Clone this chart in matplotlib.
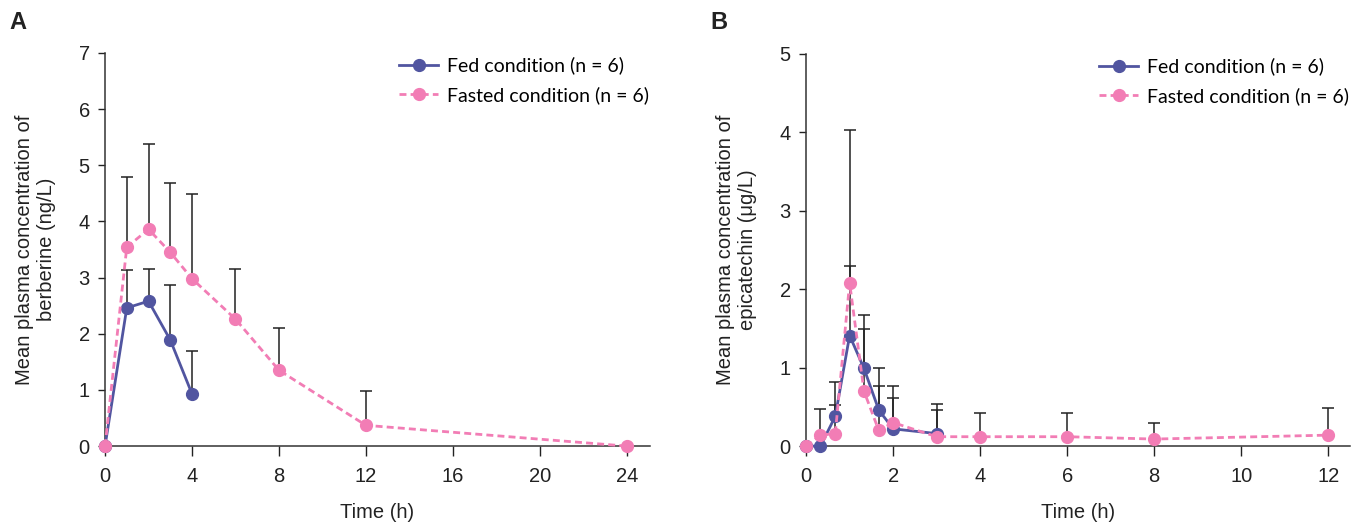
import numpy as np
import matplotlib
matplotlib.use('Agg')
import matplotlib.pyplot as plt

plt.rcParams['font.family'] = ['Liberation Sans', 'DejaVu Sans']

# Panel A: berberine (ng/L)
a_fed_t = [0, 1, 2, 3, 4]
a_fed_y = [0, 2.46, 2.58, 1.89, 0.93]
a_fed_up = [0, 3.14, 3.15, 2.86, 1.69]
a_fast_t = [0, 1, 2, 3, 4, 6, 8, 12, 24]
a_fast_y = [0, 3.54, 3.86, 3.45, 2.98, 2.26, 1.35, 0.37, 0]
a_fast_up = [0, 4.79, 5.37, 4.69, 4.49, 3.15, 2.10, 0.98, 0]

# Panel B: epicatechin (ug/L)
b_fed_t = [0, 0.33, 0.67, 1, 1.33, 1.67, 2, 3]
b_fed_y = [0, 0, 0.38, 1.41, 0.99, 0.46, 0.22, 0.16]
b_fed_up = [0, 0, 0.82, 2.30, 1.67, 0.99, 0.61, 0.54]
b_fast_t = [0, 0.33, 0.67, 1, 1.33, 1.67, 2, 3, 4, 6, 8, 12]
b_fast_y = [0, 0.14, 0.16, 2.08, 0.70, 0.20, 0.30, 0.12, 0.12, 0.12, 0.09, 0.14]
b_fast_up = [0, 0.47, 0.53, 4.03, 1.49, 0.76, 0.77, 0.46, 0.42, 0.42, 0.30, 0.49]

FED = '#5155a0'
FAST = '#f27db5'

fig = plt.figure(figsize=(13.64, 5.23), dpi=100)
axA = fig.add_axes([0.077, 0.147, 0.3995, 0.752])
axB = fig.add_axes([0.591, 0.147, 0.3987, 0.750])


def draw(ax, t1, y1, u1, t2, y2, u2):
    for t, y, u in [(t1, y1, u1), (t2, y2, u2)]:
        y = np.array(y)
        err = np.array(u) - y
        ax.errorbar(t, y, yerr=[np.zeros_like(err), err], fmt='none',
                    ecolor='#222222', elinewidth=1.1, capsize=4, capthick=1.1,
                    zorder=2, clip_on=False)
    ax.plot(t1, y1, '-', color=FED, lw=2, marker='o', ms=8.5,
            label='Fed condition (n = 6)', zorder=3, clip_on=False)
    ax.plot(t2, y2, color=FAST, lw=2, ls=(0, (2.5, 1.5)), marker='o', ms=8.5,
            label='Fasted condition (n = 6)', zorder=4, clip_on=False)
    for s in ['top', 'right']:
        ax.spines[s].set_visible(False)
    for s in ['left', 'bottom']:
        ax.spines[s].set_linewidth(1.1)
        ax.spines[s].set_color('#333333')
    ax.tick_params(direction='out', width=1, labelsize=14.5, colors='#222222')
    ax.tick_params(axis='x', length=7, pad=8)
    ax.tick_params(axis='y', length=5, pad=6)
    ax.set_xlabel('Time (h)', fontsize=14.5, color='#222222', labelpad=12)
    ax.legend(loc='upper right', frameon=False, handlelength=2.0,
              handletextpad=0.45, labelspacing=0.6,
              bbox_to_anchor=(1.03, 1.035),
              prop={'family': 'Lato', 'size': 14})


draw(axA, a_fed_t, a_fed_y, a_fed_up, a_fast_t, a_fast_y, a_fast_up)
axA.set_xlim(0, 25.06)
axA.set_ylim(0, 7)
axA.set_xticks([0, 4, 8, 12, 16, 20, 24])
axA.set_yticks(range(0, 8))
axA.set_ylabel('Mean plasma concentration of\nberberine (ng/L)', fontsize=14.5,
               color='#222222', labelpad=16, linespacing=1.25)

draw(axB, b_fed_t, b_fed_y, b_fed_up, b_fast_t, b_fast_y, b_fast_up)
axB.set_xlim(0, 12.5)
axB.set_ylim(0, 5)
axB.set_xticks([0, 2, 4, 6, 8, 10, 12])
axB.set_yticks(range(0, 6))
axB.set_ylabel('Mean plasma concentration of\nepicatechin (\u03bcg/L)', fontsize=14.5,
               color='#222222', labelpad=16, linespacing=1.25)

fig.text(0.007, 0.945, 'A', fontsize=17, fontweight='bold', color='#222222')
fig.text(0.521, 0.945, 'B', fontsize=17, fontweight='bold', color='#222222')

fig.savefig('out.png', dpi=100)
